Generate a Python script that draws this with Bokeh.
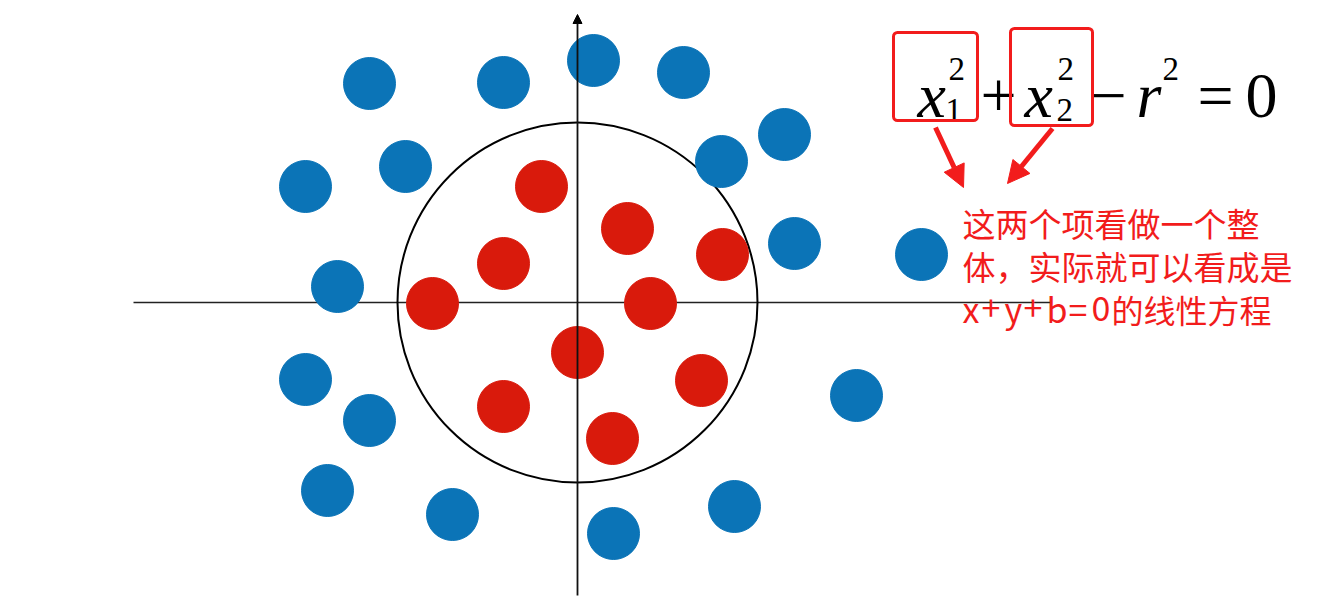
from bokeh.plotting import figure
from bokeh.models import Range1d, Arrow, NormalHead, BoxAnnotation
from bokeh.core.properties import value
from bokeh.embed import file_html
from bokeh.resources import INLINE

# ---- data (diagram coordinates, origin at the axes crossing, y up) ----
blue_x = [-209, -75, 15, 105, 206, 143, -173, -273, 216, 343, -241, -273, -209, 278, -251, -126, 35, 156]
blue_y = [219, 220, 242, 230, 168, 141, 136, 116, 59, 48, 16, -77, -118, -93, -188, -212, -231, -204]
red_x = [-37, 49, -75, 144, -146, 72, -1, 123, -75, 34]
red_y = [116, 74, 39, 48, -1, -1, -50, -78, -104, -136]
point_radius = 26
circle_radius = 180

formula_main = ["x", "+", "x", "−", "r", "=", "0"]
formula_sup = ["2", "2", "2"]
formula_sub = ["1", "2"]
note_lines = ["这两个项看做一个整", "体，实际就可以看成是"]
note_eq = list("x+y+b=0")
note_tail = "的线性方程"

BLUE = "#0b74b7"
RED_PT = "#d91a0c"
RED = "#f21c1c"

X0, Y0 = 578, 302  # image position of origin (for layout only)
W, H = 1320, 600

def ix(px):
    return px - X0

def iy(py):
    return Y0 - py

p = figure(width=W, height=H, output_backend="svg", toolbar_location=None,
           x_range=Range1d(ix(0), ix(W)), y_range=Range1d(iy(H), iy(0)),
           min_border=0)
p.axis.visible = False
p.grid.visible = False
p.outline_line_color = None
p.background_fill_color = "white"

# axes
p.line([ix(133), ix(1050)], [0, 0], line_color="#222222", line_width=1.6)
p.add_layout(Arrow(end=NormalHead(size=9, fill_color="black", line_color="black"),
                   x_start=-1, y_start=iy(595), x_end=-1, y_end=iy(14),
                   line_color="#111111", line_width=1.8))

# circle boundary
p.circle(x=[-1], y=[0], radius=circle_radius, fill_color=None,
         line_color="black", line_width=2)

# points
p.circle(x=blue_x, y=blue_y, radius=point_radius, fill_color=BLUE, line_color=BLUE, line_width=1)
p.circle(x=red_x, y=red_y, radius=point_radius, fill_color=RED_PT, line_color=RED_PT, line_width=1)

# formula
serif = value("Liberation Serif")
main_pos = [(917, "italic"), (980, "normal"), (1024, "italic"), (1090, "normal"),
            (1136, "italic"), (1197, "normal"), (1245, "normal")]
for (px, style), t in zip(main_pos, formula_main):
    p.text(x=[ix(px)], y=[iy(95)], text=[t], text_font=serif, text_font_size="64px",
           text_font_style=style, text_color="black", text_baseline="alphabetic", text_align="left")
for px, t in zip([948, 1057, 1162], formula_sup):
    p.text(x=[ix(px)], y=[iy(68)], text=[t], text_font=serif, text_font_size="33px",
           text_color="black", text_baseline="alphabetic", text_align="left")
for px, t in zip([945, 1056], formula_sub):
    p.text(x=[ix(px)], y=[iy(109)], text=[t], text_font=serif, text_font_size="33px",
           text_color="black", text_baseline="alphabetic", text_align="left")

# red boxes
for l, r, t, b in [(893, 977, 32, 120), (1010, 1092, 28, 125)]:
    p.add_layout(BoxAnnotation(left=ix(l), right=ix(r), top=iy(t), bottom=iy(b),
                               fill_alpha=0, line_color=RED, line_alpha=1.0,
                               line_width=3, border_radius=4))

# red arrows
for (xs, ys, xe, ye) in [(935, 127, 963, 187), (1052, 128, 1007, 183)]:
    p.add_layout(Arrow(end=NormalHead(size=22, fill_color=RED, line_color=RED),
                       x_start=ix(xs), y_start=iy(ys), x_end=ix(xe), y_end=iy(ye),
                       line_color=RED, line_width=5))

# annotation text
cjk = value("Noto Sans CJK SC")
for i, line in enumerate(note_lines):
    p.text(x=[ix(962)], y=[iy(222 + 43 * i)], text=[line],
           text_font=cjk, text_font_size="33px",
           text_color=RED, text_baseline="middle", text_align="left")
eq_pos = [962, 981, 1004, 1023, 1046, 1068, 1091]
p.text(x=[ix(px) for px in eq_pos], y=[iy(308)] * len(note_eq), text=note_eq,
       text_font=cjk, text_font_size="34px", text_color=RED,
       text_baseline="middle", text_align="left")
p.text(x=[ix(1111)], y=[iy(308)], text=[note_tail], text_font=cjk, text_font_size="32px",
       text_color=RED, text_baseline="middle", text_align="left")

open("out.html", "w").write(file_html(p, INLINE))
